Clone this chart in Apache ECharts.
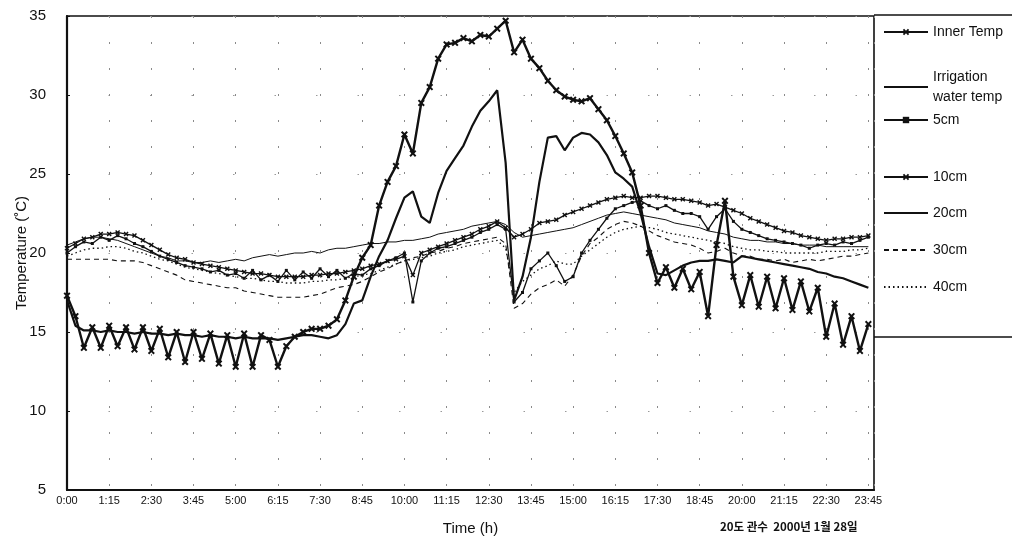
<!DOCTYPE html>
<html>
<head>
<meta charset="utf-8">
<script src="https://cdn.jsdelivr.net/npm/echarts@6/dist/echarts.min.js"></script>
<style>
  html, body { margin: 0; padding: 0; background: #fff; }
  #chart { width: 1012px; height: 537px; }
</style>
</head>
<body>
<div id="chart"></div>
<script>
/* 온실 내부 온도 / 관수 수온 / 토양 깊이별 온도 (15분 간격 판독값) */
var xTickLabels = ['0:00', '1:15', '2:30', '3:45', '5:00', '6:15', '7:30', '8:45', '10:00', '11:15',
    '12:30', '13:45', '15:00', '16:15', '17:30', '18:45', '20:00', '21:15', '22:30', '23:45'];
var seriesNames = ['Inner Temp', 'Irrigation water temp', '5cm', '10cm', '20cm', '30cm', '40cm'];

// sampling times, minutes after midnight (every 15 min)
var times = [];
for (var i = 0; i < 96; i++) times.push(i * 15);

var innerTemp = [
    17.3, 16.0, 14.0, 15.3, 14.0, 15.4, 14.1, 15.3,
    13.9, 15.3, 13.8, 15.2, 13.4, 15.0, 13.1, 15.0,
    13.3, 14.9, 13.0, 14.8, 12.8, 14.9, 12.8, 14.8,
    14.5, 12.8, 14.1, 14.7, 15.0, 15.2, 15.2, 15.4,
    15.8, 17.0, 18.5, 19.7, 20.5, 23.0, 24.5, 25.5,
    27.5, 26.3, 29.5, 30.5, 32.3, 33.2, 33.3, 33.6,
    33.4, 33.8, 33.7, 34.2, 34.7, 32.7, 33.5, 32.3,
    31.7, 30.9, 30.3, 29.9, 29.7, 29.6, 29.8, 29.1,
    28.4, 27.4, 26.3, 25.1, 23.0, 20.0, 18.1, 19.1,
    17.8, 19.0, 17.7, 18.8, 16.0, 20.5, 23.3, 18.5,
    16.7, 18.6, 16.6, 18.5, 16.5, 18.4, 16.4, 18.2,
    16.3, 17.8, 14.7, 16.8, 14.2, 16.0, 13.8, 15.5
];
var irrigation = [
    17.0, 15.4, 15.1, 15.1, 15.0, 15.1, 15.0, 15.0,
    14.9, 15.0, 14.9, 14.9, 14.8, 14.9, 14.8, 14.8,
    14.7, 14.8, 14.7, 14.7, 14.6, 14.7, 14.6, 14.6,
    14.6, 14.5, 14.6, 14.7, 14.8, 14.8, 14.7, 14.6,
    14.8, 15.5, 16.8, 17.0, 18.5, 19.8, 20.8, 22.2,
    23.5, 23.9, 22.3, 21.9, 23.8, 25.2, 26.0, 26.8,
    28.0, 29.0, 29.6, 30.3, 25.7, 17.0, 18.5, 21.0,
    24.5, 27.3, 27.4, 26.5, 27.3, 27.6, 27.5, 27.0,
    26.2, 25.1, 24.7, 24.2, 22.5, 20.4, 18.7, 18.6,
    18.9, 19.2, 19.4, 19.5, 19.5, 19.6, 19.5, 19.4,
    19.8, 19.7, 19.6, 19.5, 19.4, 19.3, 19.2, 19.1,
    19.0, 18.8, 18.7, 18.5, 18.4, 18.2, 18.0, 17.8
];
var soil5 = [
    20.0, 20.4, 20.7, 20.6, 21.0, 20.8, 21.1, 20.9,
    20.6, 20.4, 20.1, 19.8, 19.6, 19.4, 19.2, 19.1,
    19.0, 18.8, 18.9, 18.6, 18.7, 18.4, 18.9, 18.3,
    18.6, 18.2, 18.9, 18.3, 18.8, 18.4, 19.0, 18.5,
    18.9, 18.4, 18.7, 18.6, 19.0, 19.2, 19.5, 19.7,
    20.0, 16.9, 19.5, 20.0, 20.3, 20.4, 20.6, 20.8,
    21.0, 21.3, 21.5, 21.8, 21.5, 16.9, 17.5, 19.0,
    19.5, 20.0, 19.2, 18.2, 18.5, 20.0, 20.8, 21.5,
    22.2, 22.8, 23.0, 23.2, 23.3, 23.0, 22.8, 23.0,
    22.7, 22.5, 22.5, 22.3, 21.5, 22.3, 22.8, 22.0,
    21.5, 21.3, 21.1, 20.9, 20.8, 20.7, 20.6, 20.5,
    20.3, 20.5, 20.6, 20.5, 20.7, 20.6, 20.8, 21.0
];
var soil10 = [
    20.3, 20.6, 20.9, 21.0, 21.2, 21.2, 21.3, 21.2,
    21.1, 20.8, 20.5, 20.2, 19.9, 19.7, 19.6, 19.4,
    19.3, 19.2, 19.1, 19.0, 18.9, 18.8, 18.7, 18.7,
    18.6, 18.5, 18.5, 18.5, 18.5, 18.6, 18.6, 18.7,
    18.7, 18.8, 18.9, 19.0, 19.2, 19.3, 19.5, 19.6,
    19.8, 18.6, 20.0, 20.2, 20.4, 20.6, 20.8, 21.0,
    21.2, 21.5, 21.7, 22.0, 21.6, 21.0, 21.2, 21.5,
    21.9, 22.0, 22.1, 22.4, 22.6, 22.8, 23.0, 23.2,
    23.4, 23.5, 23.6, 23.5, 23.5, 23.6, 23.6, 23.5,
    23.4, 23.4, 23.3, 23.2, 23.0, 23.1, 22.9, 22.7,
    22.5, 22.2, 22.0, 21.8, 21.6, 21.4, 21.3, 21.1,
    21.0, 20.9, 20.8, 20.9, 20.9, 21.0, 21.0, 21.1
];
var soil20 = [
    20.5, 20.7, 20.9, 21.0, 21.0, 20.9, 20.8, 20.6,
    20.4, 20.2, 20.0, 19.8, 19.7, 19.5, 19.5, 19.4,
    19.4, 19.5, 19.4, 19.5, 19.6, 19.5, 19.7, 19.8,
    19.9, 19.8, 19.9, 20.0, 20.0, 20.1, 20.0, 20.2,
    20.3, 20.3, 20.4, 20.5, 20.6, 20.6, 20.7, 20.7,
    20.8, 20.8, 20.9, 21.0, 21.2, 21.3, 21.4, 21.5,
    21.7, 21.8, 21.9, 22.0, 21.8, 21.3, 21.0, 21.1,
    21.2, 21.3, 21.4, 21.5, 21.6, 21.8, 22.0, 22.2,
    22.4, 22.5, 22.6, 22.5, 22.4, 22.3, 22.2, 22.1,
    21.9, 21.8, 21.7, 21.6, 21.4, 21.3, 21.2, 21.0,
    20.9, 20.8, 20.8, 20.7, 20.7, 20.6, 20.6, 20.5,
    20.5, 20.5, 20.4, 20.4, 20.4, 20.4, 20.4, 20.4
];
var soil30 = [
    19.6, 19.6, 19.6, 19.6, 19.6, 19.6, 19.5, 19.5,
    19.5, 19.4, 19.2, 19.0, 18.8, 18.6, 18.3, 18.2,
    18.1, 18.0, 17.9, 17.8, 17.8, 17.6, 17.5, 17.4,
    17.3, 17.2, 17.2, 17.2, 17.2, 17.3, 17.4, 17.6,
    17.8, 17.9, 18.0, 18.2, 18.5, 18.8, 19.0, 19.3,
    19.5, 19.7, 19.8, 20.0, 20.1, 20.3, 20.4, 20.6,
    20.7, 20.8, 20.9, 21.0, 20.6, 16.5, 16.8, 17.4,
    17.8, 18.0, 18.3, 17.9, 18.6, 19.8, 20.6, 21.0,
    21.5, 21.8, 22.0, 21.9, 21.7, 21.4, 21.1, 20.9,
    20.7, 20.6, 20.5, 20.3, 20.0, 20.1, 20.3, 20.0,
    19.8, 19.8, 19.6, 19.6, 19.5, 19.6, 19.4, 19.5,
    19.6, 19.5, 19.6, 19.7, 19.8, 19.8, 19.9, 20.0
];
var soil40 = [
    19.8, 20.0, 20.2, 20.3, 20.3, 20.4, 20.4, 20.3,
    20.1, 20.0, 19.8, 19.6, 19.5, 19.3, 19.1, 19.0,
    18.9, 18.8, 18.7, 18.6, 18.5, 18.4, 18.4, 18.3,
    18.2, 18.2, 18.1, 18.1, 18.1, 18.2, 18.2, 18.3,
    18.3, 18.4, 18.5, 18.6, 18.7, 18.9, 19.1, 19.3,
    19.5, 19.6, 19.7, 19.8, 20.0, 20.1, 20.2, 20.4,
    20.5, 20.6, 20.7, 20.8, 20.3, 17.5, 18.2, 18.6,
    19.0, 19.2, 19.5, 19.3, 19.3, 19.8, 20.2, 20.6,
    21.0, 21.3, 21.5, 21.6, 21.7, 21.6, 21.5, 21.3,
    21.2, 21.1, 21.0, 20.9, 20.8, 20.7, 20.6, 20.4,
    20.3, 20.2, 20.2, 20.1, 20.1, 20.0, 20.0, 20.0,
    20.0, 20.0, 20.1, 20.1, 20.1, 20.2, 20.2, 20.3
];

(function () {
    var myChart = echarts.init(document.getElementById('chart'), null, { renderer: 'canvas' });
    var font = '"Liberation Sans", Arial, sans-serif';
    var ink = '#111';
    var xMark = 'path://M0,2L2,0L5,3L8,0L10,2L7,5L10,8L8,10L5,7L2,10L0,8L3,5Z';

    function pairs(arr) {
        return times.map(function (t, i) { return [t, arr[i]]; });
    }

    // 시리즈 모양 (선 굵기, 점선, 마커)
    var styles = [
        { data: innerTemp, width: 2.4, type: 'solid', symbol: xMark, size: 7, z: 10 },
        { data: irrigation, width: 2.2, type: 'solid', symbol: 'none', size: 0, z: 9 },
        { data: soil5, width: 1.3, type: 'solid', symbol: 'rect', size: 3, z: 5 },
        { data: soil10, width: 1.3, type: 'solid', symbol: xMark, size: 5, z: 5 },
        { data: soil20, width: 1, type: 'solid', symbol: 'none', size: 0, z: 4 },
        { data: soil30, width: 1.1, type: [5, 4], symbol: 'none', size: 0, z: 4 },
        { data: soil40, width: 1.3, type: [1.5, 3], symbol: 'none', size: 0, z: 4 }
    ];
    var series = styles.map(function (s, k) {
        return {
            name: seriesNames[k],
            type: 'line',
            data: pairs(s.data),
            symbol: s.symbol,
            symbolSize: s.size,
            showSymbol: s.symbol !== 'none',
            z: s.z,
            lineStyle: { color: ink, width: s.width, type: s.type },
            itemStyle: { color: ink },
            emphasis: { disabled: true }
        };
    });

    // 범례 위치 (아이콘 중심 y)
    var legendY = [32, 77, 120, 177, 213, 250, 287];
    var legends = seriesNames.map(function (n, k) {
        var two = k === 1;
        var leg = {
            data: [n],
            left: 883,
            top: two ? legendY[k] - 10 : legendY[k] - 8,
            orient: 'vertical',
            padding: 0,
            itemWidth: 44,
            itemHeight: 8,
            selectedMode: false,
            formatter: two ? 'Irrigation\nwater temp' : '{name}',
            textStyle: {
                fontFamily: font, fontSize: 14, color: ink,
                lineHeight: two ? 20 : 16
            }
        };
        if (styles[k].symbol === 'none') leg.itemStyle = { opacity: 0 };
        return leg;
    });

    var option = {
        animation: false,
        backgroundColor: '#fff',
        color: [ink],
        legend: legends,
        grid: {
            left: 67, right: 138, top: 16, bottom: 47,
            outerBoundsMode: 'none',
            show: true, borderColor: ink, borderWidth: 1.6
        },
        xAxis: {
            type: 'value',
            min: 0,
            max: 1435,
            interval: 75,
            name: 'Time (h)',
            nameLocation: 'middle',
            nameGap: 31,
            nameMoveOverlap: false,
            nameTextStyle: { fontFamily: font, fontSize: 15, color: ink },
            axisLine: { lineStyle: { color: ink, width: 2.2 } },
            axisTick: { show: false },
            axisLabel: {
                fontFamily: font, fontSize: 11, color: ink, margin: 5,
                formatter: function (v) {
                    return v % 75 === 0 ? (xTickLabels[v / 75] || '') : '';
                }
            },
            splitLine: { show: true, lineStyle: { color: '#8a8a8a', width: 1, type: [2, 24] } }
        },
        yAxis: {
            type: 'value',
            min: 5,
            max: 35,
            interval: 5,
            name: 'Temperature (˚C)',
            nameLocation: 'middle',
            nameGap: 38,
            nameMoveOverlap: false,
            nameTextStyle: { fontFamily: font, fontSize: 15, color: ink },
            axisLine: { show: true, lineStyle: { color: ink, width: 2.2 } },
            axisTick: { show: true, inside: true, length: 3, lineStyle: { color: ink } },
            axisLabel: { fontFamily: font, fontSize: 15, color: ink, margin: 21 },
            splitLine: { show: true, lineStyle: { color: '#9a9a9a', width: 1, type: [1.5, 40] } }
        },
        graphic: [
            { type: 'line', shape: { x1: 874, y1: 15, x2: 1012, y2: 15 }, style: { stroke: ink, lineWidth: 1.6 } },
            { type: 'line', shape: { x1: 874, y1: 337, x2: 1012, y2: 337 }, style: { stroke: ink, lineWidth: 1.6 } },
            {
                type: 'text', left: 720, top: 521,
                style: {
                    text: '20도 관수  2000년 1월 28일',
                    font: 'bold 11.5px "Noto Sans CJK KR", sans-serif',
                    fill: ink
                }
            }
        ],
        series: series
    };
    myChart.setOption(option);
})();
</script>
</body>
</html>
